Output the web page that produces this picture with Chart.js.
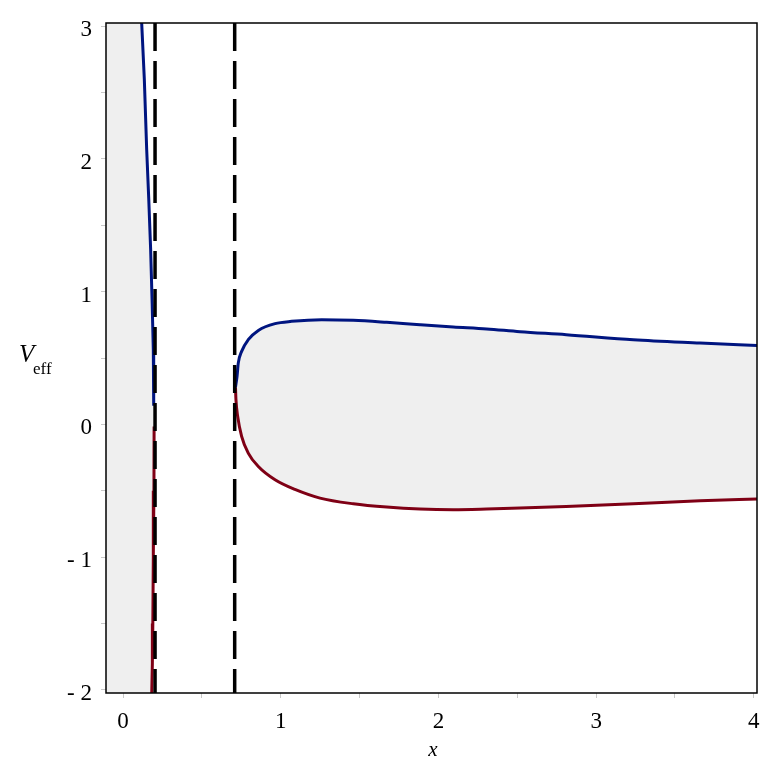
<!DOCTYPE html>
<html>
<head>
<meta charset="utf-8">
<script src="https://cdn.jsdelivr.net/npm/chart.js@4/dist/chart.umd.min.js"></script>
<style>
  html, body { margin: 0; padding: 0; background: #fff; }
  #wrap { width: 772px; height: 772px; }
</style>
</head>
<body>
<div id="wrap"><canvas id="plot" width="772" height="772"></canvas></div>
<script>
// Axis ranges and ticks
const xMin = -0.108, xMax = 4.02;
const yMin = -2.023, yMax = 3.023;
const xTicks = [0, 0.5, 1, 1.5, 2, 2.5, 3, 3.5, 4];
const yTicks = [-2, -1.5, -1, -0.5, 0, 0.5, 1, 1.5, 2, 2.5, 3];

// Vertical asymptotes (dashed)
const asymptotes = [0.203, 0.708];

// Left branch, upper (blue) and lower (red)
const leftUpperX = [0.118, 0.135, 0.150, 0.163, 0.175, 0.185, 0.192, 0.194, 0.195];
const leftUpperY = [3.03, 2.60, 2.07, 1.70, 1.32, 0.90, 0.56, 0.30, 0.14];
const leftLowerX = [0.197, 0.196, 0.192, 0.189, 0.186, 0.182];
const leftLowerY = [-0.015, -0.5, -1.0, -1.5, -1.8, -2.03];

// Right loop, upper (blue) and lower (red)
const loopUpperX = [0.713, 0.723, 0.731, 0.752, 0.794, 0.858, 0.964, 1.069, 1.260, 1.460, 1.672, 1.883, 2.094, 2.306, 2.517, 2.810, 3.236, 3.659, 4.030];
const loopUpperY = [0.28, 0.362, 0.463, 0.55, 0.638, 0.708, 0.759, 0.776, 0.789, 0.784, 0.769, 0.751, 0.734, 0.719, 0.698, 0.676, 0.638, 0.613, 0.593];
const loopLowerX = [0.713, 0.716, 0.727, 0.752, 0.794, 0.858, 0.964, 1.090, 1.249, 1.460, 1.672, 1.883, 2.094, 2.306, 2.517, 2.810, 3.236, 3.659, 4.030];
const loopLowerY = [0.28, 0.186, 0.06, -0.09, -0.216, -0.317, -0.417, -0.49, -0.555, -0.598, -0.623, -0.638, -0.643, -0.638, -0.63, -0.618, -0.598, -0.575, -0.562];

const blue = "#001580";
const red = "#7f0015";
const shade = "#efefef";

const pts = (xs, ys) => xs.map((x, i) => ({ x: x, y: ys[i] }));

const leftUpper = pts(leftUpperX, leftUpperY);
const leftLower = pts(leftLowerX, leftLowerY);
const loopUpper = pts(loopUpperX, loopUpperY);
const loopLower = pts(loopLowerX, loopLowerY);

// Shaded region left of the left branch, closed with the axis bounds
const leftShade = [{ x: xMin - 1, y: yMax + 1 }]
  .concat(leftUpper, leftLower, [{ x: xMin - 1, y: yMin - 1 }]);

const curve = (data, color, smooth) => ({
  data: data,
  showLine: true,
  borderColor: color,
  borderWidth: 3,
  pointRadius: 0,
  tension: 0,
  cubicInterpolationMode: smooth ? "monotone" : "default",
  fill: false,
  order: 1,
});

const dashSets = asymptotes.map((a) => ({
  data: [{ x: a, y: yMax }, { x: a, y: yMin }],
  showLine: true,
  borderColor: "#000",
  borderWidth: 3.5,
  borderDash: [28, 10],
  pointRadius: 0,
  fill: false,
  order: 0,
}));

// Loop: blue curve filled down to the red curve (next dataset)
const loopTop = curve(loopUpper, blue, true);
loopTop.fill = "+1";
loopTop.backgroundColor = shade;

const leftFill = {
  data: leftShade,
  showLine: true,
  borderColor: "transparent",
  borderWidth: 0,
  backgroundColor: shade,
  pointRadius: 0,
  tension: 0,
  fill: "shape",
  order: 2,
};

// Frame and axis titles
const framePlugin = {
  id: "frame",
  afterDraw(chart) {
    const { ctx, chartArea: a } = chart;
    ctx.save();
    ctx.strokeStyle = "#000";
    ctx.lineWidth = 1.5;
    ctx.strokeRect(a.left, a.top, a.right - a.left, a.bottom - a.top);

    ctx.fillStyle = "#000";
    ctx.textBaseline = "alphabetic";
    ctx.textAlign = "left";
    ctx.font = "italic 25px 'Liberation Serif'";
    ctx.fillText("V", 19, 362);
    ctx.font = "17px 'Liberation Serif'";
    ctx.fillText("eff", 33, 374);

    ctx.textAlign = "center";
    ctx.font = "italic 21px 'Liberation Serif'";
    ctx.fillText("x", 433, 756);
    ctx.restore();
  },
};

const tickLabel = (v) => {
  if (!Number.isInteger(v)) return "";
  return v < 0 ? "- " + (-v) : String(v);
};

const tickFont = { family: "'Liberation Serif'", size: 23 };

new Chart(document.getElementById("plot"), {
  type: "scatter",
  plugins: [framePlugin],
  data: {
    datasets: [
      ...dashSets,
      curve(leftUpper, blue, false),
      curve(leftLower, red, false),
      loopTop,
      curve(loopLower, red, true),
      leftFill,
    ],
  },
  options: {
    responsive: false,
    animation: false,
    layout: { padding: { top: 23, right: 15, left: 0, bottom: 0 } },
    plugins: {
      legend: { display: false },
      tooltip: { enabled: false },
      filler: { drawTime: "beforeDatasetsDraw" },
    },
    scales: {
      x: {
        type: "linear",
        min: xMin,
        max: xMax,
        afterBuildTicks: (axis) => { axis.ticks = xTicks.map((v) => ({ value: v })); },
        afterFit: (axis) => { axis.height = 79; },
        border: { display: false },
        grid: { drawOnChartArea: false, drawTicks: true, tickLength: 5, color: "#c8c8c8" },
        ticks: { autoSkip: false, maxRotation: 0, padding: 10, color: "#000", font: tickFont,
          callback: tickLabel },
      },
      y: {
        type: "linear",
        min: yMin,
        max: yMax,
        afterBuildTicks: (axis) => { axis.ticks = yTicks.map((v) => ({ value: v })); },
        afterFit: (axis) => { axis.width = 106; },
        border: { display: false },
        grid: { drawOnChartArea: false, drawTicks: true, tickLength: 5, color: "#c8c8c8" },
        ticks: { autoSkip: false, padding: 9, labelOffset: 4, color: "#000", font: tickFont,
          callback: tickLabel },
      },
    },
  },
});
</script>
</body>
</html>
